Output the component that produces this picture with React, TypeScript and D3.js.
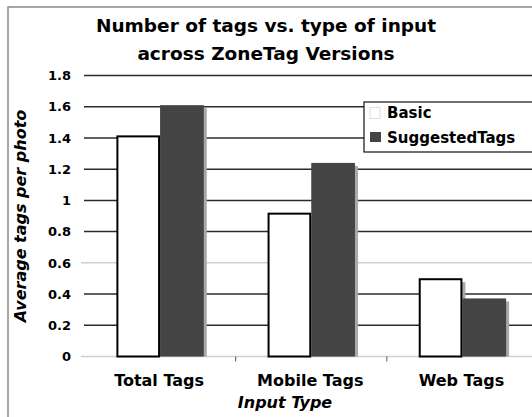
import React from 'react';
import * as d3 from 'd3';

const categories = ['Total Tags', 'Mobile Tags', 'Web Tags'];
const seriesNames = ['Basic', 'SuggestedTags'];
const basicValues = [1.41, 0.915, 0.495];
const suggestedValues = [1.61, 1.24, 0.372];
const yTicks = [0, 0.2, 0.4, 0.6, 0.8, 1, 1.2, 1.4, 1.6, 1.8];
const lightTicks = [0, 0.6];

const W = 532, H = 417;
const font = '"DejaVu Sans", Verdana, sans-serif';

export default function App() {
  const x0 = d3.scaleBand().domain(categories).range([84.5, 538]);
  const x1 = d3.scaleBand().domain(seriesNames).range([0, x0.bandwidth()]).paddingOuter(0.73);
  const y = d3.scaleLinear().domain([0, 1.8]).range([356.5, 75.5]);
  const fmt = (v: number) => (v === 0 || v === 1 ? String(v) : v.toFixed(1));
  const values = [basicValues, suggestedValues];

  return (
    <svg width={W} height={H} viewBox={`0 0 ${W} ${H}`} style={{ position: 'absolute', left: 0, top: 0, background: '#fff' }} fontFamily={font}>
      <rect x={8} y={7} width={700} height={600} fill="#fff" stroke="#8a8a8a" strokeWidth={1.5} />

      {/* title */}
      <text x={266} y={32} textAnchor="middle" fontSize={18.5} fontWeight="bold">Number of tags vs. type of input</text>
      <text x={266} y={60} textAnchor="middle" fontSize={18.5} fontWeight="bold">across ZoneTag Versions</text>

      {/* gridlines */}
      {yTicks.map(t => (
        <line key={t} x1={lightTicks.includes(t) ? 81 : 84} x2={540} y1={y(t)} y2={y(t)}
          stroke={lightTicks.includes(t) ? '#cfcfcf' : '#2a2a2a'} strokeWidth={1.5} />
      ))}
      {yTicks.map(t => (
        <text key={'l' + t} x={71} y={y(t)} dy="0.36em" textAnchor="end" fontSize={13} fontWeight="bold">{fmt(t)}</text>
      ))}

      {/* x ticks between groups */}
      {categories.slice(1).map(c => (
        <line key={'t' + c} x1={x0(c)!} x2={x0(c)!} y1={y(0)} y2={y(0) + 5} stroke="#555" strokeWidth={1} />
      ))}

      {/* bars */}
      {categories.map((c, i) => (
        <g key={c} transform={`translate(${x0(c)},0)`}>
          {seriesNames.map((s, k) => {
            const v = values[k][i];
            const bx = x1(s)!;
            const bw = x1.bandwidth();
            return (
              <g key={s}>
                <rect x={bx + 3} y={y(v) + 3} width={bw} height={y(0) - y(v) - 3} fill="#a8a8a8" />
                {k === 0 ? (
                  <rect x={bx + 1} y={y(v)} width={bw - 2} height={y(0) - y(v)} fill="#fff" stroke="#000" strokeWidth={2} />
                ) : (
                  <rect x={bx} y={y(v)} width={bw} height={y(0) - y(v)} fill="#444" />
                )}
              </g>
            );
          })}
        </g>
      ))}

      {/* x labels */}
      {categories.map(c => (
        <text key={'x' + c} x={x0(c)! + x0.bandwidth() / 2 - 1} y={386} textAnchor="middle" fontSize={16} fontWeight="bold">{c}</text>
      ))}
      <text x={285} y={408} textAnchor="middle" fontSize={16} fontWeight="bold" fontStyle="italic">Input Type</text>

      {/* y title */}
      <text transform="translate(26,216) rotate(-90)" textAnchor="middle" fontSize={16} fontWeight="bold" fontStyle="italic">Average tags per photo</text>

      {/* legend */}
      <rect x={364} y={102} width={200} height={50} fill="#fff" stroke="#111" strokeWidth={1.2} />
      <rect x={370} y={107.5} width={10} height={11} fill="#fff" stroke="#ddd" strokeWidth={1} />
      <text x={387} y={118} fontSize={15} fontWeight="bold">{seriesNames[0]}</text>
      <rect x={370} y={132} width={11} height={10} fill="#444" />
      <text x={387} y={143} fontSize={15} fontWeight="bold">{seriesNames[1]}</text>
    </svg>
  );
}
